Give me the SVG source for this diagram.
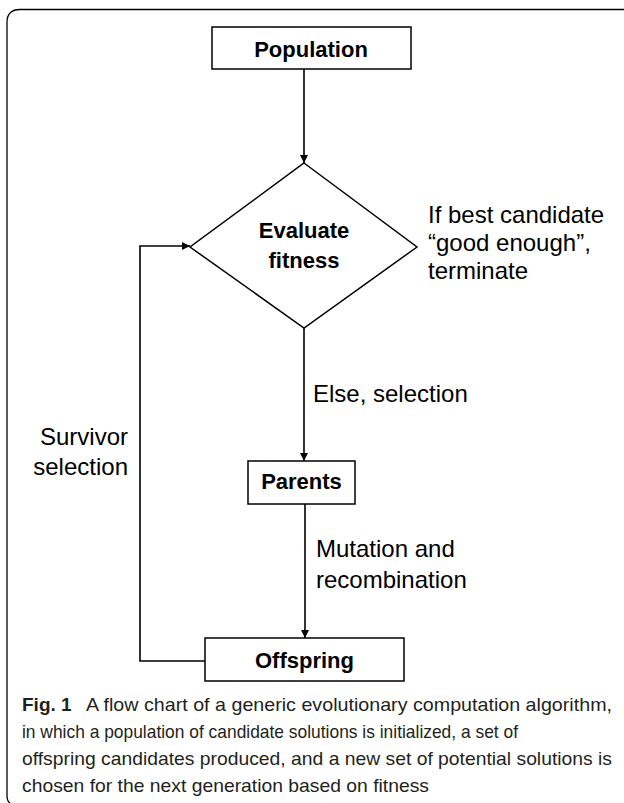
<svg xmlns="http://www.w3.org/2000/svg" width="624" height="803" viewBox="0 0 624 803">
<defs>
<style>
.box{fill:#fff;stroke:#000;stroke-width:1.5}
.lbl{font-family:"Liberation Sans",Arial,sans-serif;font-size:22px;font-weight:bold;fill:#000;text-anchor:middle}
.edge{font-family:"Liberation Sans",Arial,sans-serif;font-size:24px;fill:#000}
.cap{font-family:"Liberation Sans",Arial,sans-serif;font-size:19px;fill:#231f20}
.conn{fill:none;stroke:#000;stroke-width:1.6}
</style>
<marker id="ah" viewBox="0 0 10 10" refX="10" refY="5" markerWidth="8" markerHeight="8" markerUnits="userSpaceOnUse" orient="auto">
<path d="M0,0 L10,5 L0,10 z" fill="#000"/>
</marker>
</defs>
<rect x="0" y="0" width="624" height="803" fill="#fff"/>
<path d="M624,9.5 H20 Q7,9.5 7,22.5 V796 Q7,801 10,803" fill="none" stroke="#000" stroke-width="1.3"/>
<g id="connectors">
<line class="conn" x1="304" y1="69" x2="304" y2="163" marker-end="url(#ah)"/>
<line class="conn" x1="304" y1="328" x2="304" y2="461" marker-end="url(#ah)"/>
<line class="conn" x1="305" y1="504" x2="305" y2="638" marker-end="url(#ah)"/>
<path class="conn" d="M205,661 H140 V246 H190" stroke-width="2" marker-end="url(#ah)"/>
<text class="edge" x="428" y="223">If best candidate</text>
<text class="edge" x="428" y="251">“good enough”,</text>
<text class="edge" x="428" y="279">terminate</text>
<text class="edge" x="313" y="402">Else, selection</text>
<text class="edge" x="128" y="445" text-anchor="end">Survivor</text>
<text class="edge" x="128" y="475" text-anchor="end">selection</text>
<text class="edge" x="316" y="557">Mutation and</text>
<text class="edge" x="316" y="588">recombination</text>
</g>
<g id="population">
<rect class="box" x="212" y="27" width="199" height="42"/>
<text class="lbl" x="311" y="57">Population</text>
</g>
<g id="evaluate">
<polygon class="box" points="304,163 417,247 304,328 190,247"/>
<text class="lbl" x="304" y="238">Evaluate</text>
<text class="lbl" x="304" y="268">fitness</text>
</g>
<g id="parents">
<rect class="box" x="248" y="461" width="107" height="43"/>
<text class="lbl" x="301.5" y="489">Parents</text>
</g>
<g id="offspring">
<rect class="box" x="205" y="638" width="199" height="43"/>
<text class="lbl" x="304.5" y="668">Offspring</text>
</g>
<g id="caption">
<text class="cap" x="22" y="711" font-weight="bold">Fig. 1</text>
<text class="cap" x="86" y="711" textLength="526" lengthAdjust="spacingAndGlyphs">A flow chart of a generic evolutionary computation algorithm,</text>
<text class="cap" x="22" y="738" textLength="496" lengthAdjust="spacingAndGlyphs">in which a population of candidate solutions is initialized, a set of</text>
<text class="cap" x="22" y="765" textLength="590" lengthAdjust="spacingAndGlyphs">offspring candidates produced, and a new set of potential solutions is</text>
<text class="cap" x="22" y="792" textLength="407" lengthAdjust="spacingAndGlyphs">chosen for the next generation based on fitness</text>
</g>
</svg>
